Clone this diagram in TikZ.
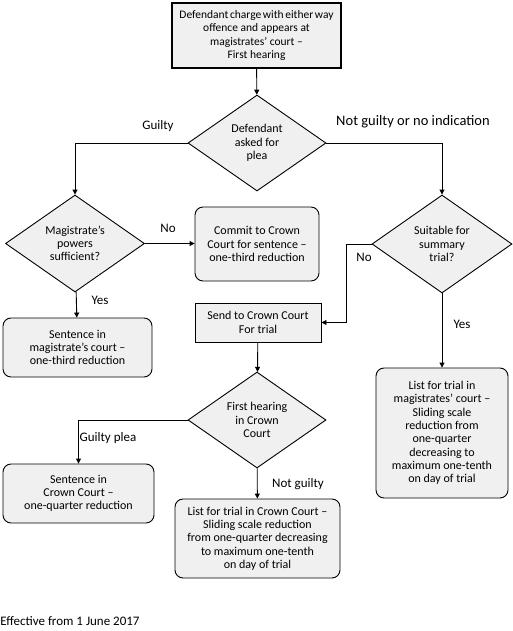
\documentclass[tikz,border=0pt]{standalone}
\usepackage{fontspec}
\setmainfont{Carlito}
\usetikzlibrary{arrows.meta, shapes.geometric}

\begin{document}
\begin{tikzpicture}[x=1pt,y=-1pt]
\useasboundingbox (0,0) rectangle (512,631);
\begin{scope}[every node/.style={draw=black,line width=0.9pt,fill=black!6,align=center,inner sep=0pt,
              font=\fontsize{12}{13.3}\selectfont}]
    \node (start) at (256.5,35.5) [rectangle,line width=1.3pt,minimum width=169pt,minimum height=65pt,
          font=\fontsize{11.5}{13.3}\selectfont] {\spaceskip=1.6pt plus 0.5pt\relax Defendant charge with either way\\offence and appears at\\magistrates' court --\\First hearing};
    \node (plea) at (257,143) [diamond,minimum width=138pt,minimum height=96pt] {Defendant\\asked for\\plea};

    \node (powers) at (75,243.5) [diamond,minimum width=139pt,minimum height=97pt] {Magistrate's\\powers\\sufficient?};
    \node (commit) at (257,244) [rectangle,rounded corners=8pt,minimum width=124pt,minimum height=74pt] {Commit to Crown\\Court for sentence --\\one-third reduction};
    \node (summary) at (442,244) [diamond,minimum width=140pt,minimum height=98pt] {Suitable for\\summary\\trial?};

    \node (sentmag) at (77.5,347.5) [rectangle,rounded corners=8pt,minimum width=149pt,minimum height=59pt] {Sentence in\\magistrate's court --\\one-third reduction};
    \node (send) at (258,322.5) [rectangle,minimum width=126pt,minimum height=39pt] {Send to Crown Court\\For trial};
    \node (listmag) at (442,433) [rectangle,rounded corners=8pt,minimum width=132pt,minimum height=130pt] {List for trial in\\magistrates' court --\\Sliding scale\\reduction from\\one-quarter\\decreasing to\\maximum one-tenth\\on day of trial};

    \node (crown) at (257,420) [diamond,minimum width=138pt,minimum height=96pt] {First hearing\\in Crown\\Court};
    \node (sentcc) at (78.5,493.5) [rectangle,rounded corners=8pt,minimum width=151pt,minimum height=59pt] {Sentence in\\Crown Court --\\one-quarter reduction};
    \node (listcc) at (257.5,538.5) [rectangle,rounded corners=8pt,minimum width=165pt,minimum height=79pt] {List for trial in Crown Court --\\Sliding scale reduction\\from one-quarter decreasing\\to maximum one-tenth\\on day of trial};
\end{scope}

\begin{scope}[>={Triangle[length=5pt,width=5pt]}, line width=0.9pt,
              every node/.style={font=\fontsize{13}{15}\selectfont,inner sep=0pt}]
    \draw [->] (start) -- (plea);
    \draw [->] (plea.west) -| (powers.north);
    \draw [->] (plea.east) -| (summary.north);
    \draw [->] (powers.east) -- (powers.east -| commit.west);
    \draw [->] (powers) -- (sentmag);
    \draw [->] (summary.west) -- ++(-25,0) |- (send.east);
    \draw [->] (summary) -- (listmag);
    \draw [->] (send) -- (crown);
    \draw [->] (crown.west) -| (sentcc.north);
    \draw [->] (crown) -- (listcc);

    \node (guilty) at (158,126) {Guilty};
    \node (notguilty) at (413,122) [font=\fontsize{14.5}{16}\selectfont] {Not guilty or no indication};
    \node (no1) at (168,228) {No};
    \node (yes1) at (100,300) {Yes};
    \node (no2) at (364,257) {No};
    \node (yes2) at (462,324) {Yes};
    \node (gplea) at (108,438) {Guilty plea};
    \node (ngplea) at (298,484) {Not guilty};
    \node (effective) at (0,621) [anchor=west] {Effective from 1 June 2017};
\end{scope}
\end{tikzpicture}
\end{document}
